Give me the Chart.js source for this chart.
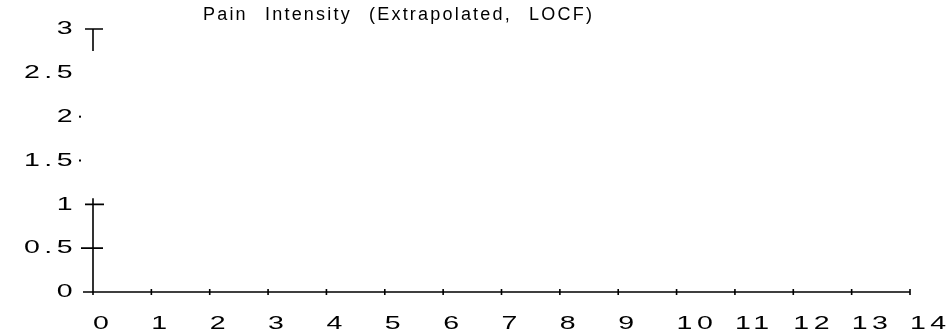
<!DOCTYPE html>
<html>
<head>
<meta charset="utf-8">
<script src="https://cdn.jsdelivr.net/npm/chart.js@4.4.0/dist/chart.umd.min.js"></script>
<style>
  html, body { margin: 0; padding: 0; background: #fff; }
  #wrap { position: relative; width: 947px; height: 336px; }
  #title {
    position: absolute; left: 203px; top: 4px;
    font-family: "Liberation Sans", sans-serif; font-size: 18px;
    letter-spacing: 2.2px; word-spacing: 10px; color: #000;
  }
</style>
</head>
<body>
<div id="wrap">
  <canvas id="myChart" width="947" height="336"></canvas>
  <div id="title">Pain Intensity (Extrapolated, LOCF)</div>
</div>
<script>
// valori (nessuna serie visibile)
let xTicks = [0, 1, 2, 3, 4, 5, 6, 7, 8, 9, 10, 11, 12, 13, 14];
let yTicks = [0, 0.5, 1, 1.5, 2, 2.5, 3];
let seriesValues = [];

let ink = "#000";
let stretch = 1.5; // il font della scansione e' molto largo

// assi disegnati a mano come nella scansione
let scanAxes = {
  id: "scanAxes",
  beforeDraw(chart) {
    let ctx = chart.ctx;
    ctx.letterSpacing = "3px";
    let orig = ctx.fillText;
    ctx._origFillText = orig;
    ctx.fillText = function(text, tx, ty) {
      this.save();
      this.translate(tx, ty);
      this.scale(stretch, 1);
      orig.call(this, text, 0, 0);
      this.restore();
    };
  },
  afterDraw(chart) {
    let ctx = chart.ctx;
    ctx.fillText = ctx._origFillText;
    let x = chart.scales.x, y = chart.scales.y;
    let x0 = x.getPixelForValue(0);
    ctx.save();
    ctx.letterSpacing = "0px";
    ctx.strokeStyle = ink;
    ctx.lineWidth = 1.6;
    ctx.beginPath();
    // asse x
    ctx.moveTo(x0 - 10, y.getPixelForValue(0));
    ctx.lineTo(x.getPixelForValue(14), y.getPixelForValue(0));
    // tacche x
    xTicks.forEach(function(v) {
      let px = x.getPixelForValue(v);
      ctx.moveTo(px, y.getPixelForValue(0) - 3);
      ctx.lineTo(px, y.getPixelForValue(0) + 3);
    });
    // asse y (solo tratto basso)
    ctx.moveTo(x0, y.getPixelForValue(0) + 3);
    ctx.lineTo(x0, y.getPixelForValue(1) - 6);
    ctx.moveTo(x0 - 8, y.getPixelForValue(1));
    ctx.lineTo(x0 + 11, y.getPixelForValue(1));
    ctx.moveTo(x0 - 12, y.getPixelForValue(0.5));
    ctx.lineTo(x0 + 10, y.getPixelForValue(0.5));
    // la "T" in cima
    ctx.moveTo(x0 - 8, y.getPixelForValue(3));
    ctx.lineTo(x0 + 10, y.getPixelForValue(3));
    ctx.moveTo(x0, y.getPixelForValue(3));
    ctx.lineTo(x0, y.getPixelForValue(3) + 22);
    ctx.stroke();
    // puntini a 1.5 e 2
    ctx.fillStyle = ink;
    [1.5, 2].forEach(function(v) {
      ctx.fillRect(x0 - 14, y.getPixelForValue(v) - 1, 2, 2);
    });
    ctx.restore();
  }
};

new Chart(document.getElementById("myChart"), {
  type: "line",
  data: {
    datasets: [{
      label: "Pain Intensity",
      data: seriesValues,
      borderColor: ink,
      pointRadius: 0
    }]
  },
  options: {
    responsive: false,
    animation: false,
    layout: { padding: { top: 29, right: 37, left: 0, bottom: 0 } },
    plugins: { legend: { display: false }, tooltip: { enabled: false } },
    scales: {
      x: {
        type: "linear",
        min: 0,
        max: 14,
        afterBuildTicks(s) { s.ticks = xTicks.map(function(v) { return { value: v }; }); },
        afterFit(s) { s.height = 44; },
        grid: { display: false },
        border: { display: false },
        ticks: {
          color: ink,
          padding: 12,
          align: "start",
          maxRotation: 0,
          autoSkip: false,
          font: { family: "Liberation Sans", size: 19 },
          callback: function(v) { return String(v); }
        }
      },
      y: {
        min: 0,
        max: 3,
        afterBuildTicks(s) { s.ticks = yTicks.map(function(v) { return { value: v }; }); },
        afterFit(s) { s.width = 93; },
        grid: { display: false },
        border: { display: false },
        ticks: {
          color: ink,
          padding: 8,
          font: { family: "Liberation Sans", size: 19 },
          callback: function(v) { return String(v); }
        }
      }
    }
  },
  plugins: [scanAxes]
});
</script>
</body>
</html>
